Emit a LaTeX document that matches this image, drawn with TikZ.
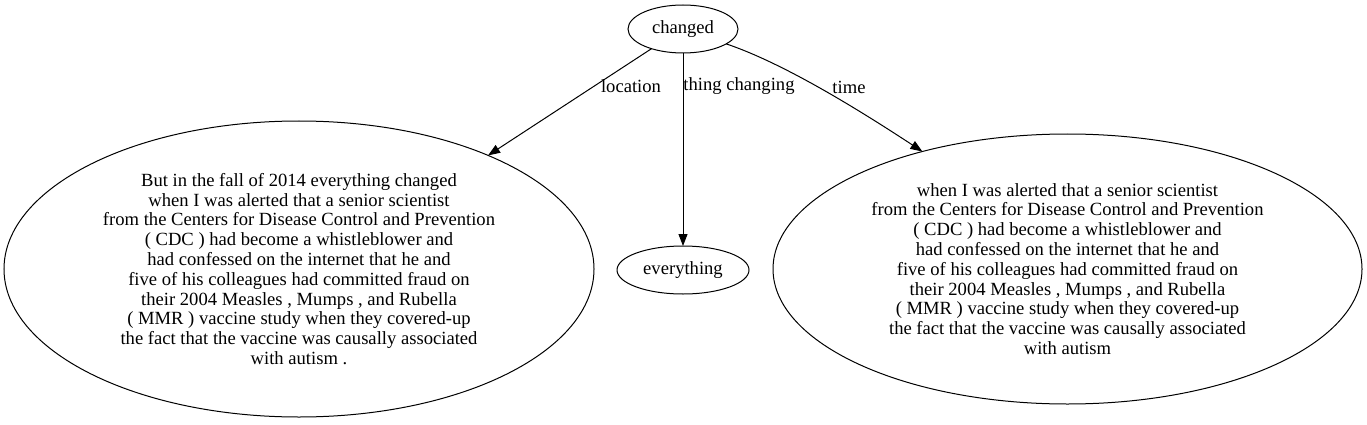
\documentclass[tikz,border=0pt]{standalone}
\usepackage{fontspec}
\setmainfont{Liberation Serif}
\usetikzlibrary{shapes.geometric,arrows.meta}
\begin{document}
\begin{tikzpicture}[x=1pt,y=-1pt,
  every node/.style={font=\fontsize{18.6}{19.8}\selectfont},
  ell/.style={draw,ellipse,line width=1pt,inner sep=0pt,outer sep=0pt,align=center},
  lbl/.style={inner sep=0pt},
  edge/.style={line width=1pt,-{Triangle[length=12pt,width=9pt]}}]
\useasboundingbox (0,0) rectangle (1367,425);
\node[ell,minimum width=110pt,minimum height=48pt] (changed) at (683,29) {changed};
\node[ell,minimum width=132pt,minimum height=48pt] (everything) at (683,270) {everything};
\node[ell,minimum width=590pt,minimum height=296pt] (left) at (299,269) {But in the fall of 2014 everything changed\\
when I was alerted that a senior scientist\\
from the Centers for Disease Control and Prevention\\
( CDC ) had become a whistleblower and\\
had confessed on the internet that he and\\
five of his colleagues had committed fraud on\\
their 2004 Measles , Mumps , and Rubella\\
( MMR ) vaccine study when they covered-up\\
the fact that the vaccine was causally associated\\
with autism .};
\node[ell,minimum width=589pt,minimum height=270pt] (right) at (1067.5,269) {when I was alerted that a senior scientist\\
from the Centers for Disease Control and Prevention\\
( CDC ) had become a whistleblower and\\
had confessed on the internet that he and\\
five of his colleagues had committed fraud on\\
their 2004 Measles , Mumps , and Rubella\\
( MMR ) vaccine study when they covered-up\\
the fact that the vaccine was causally associated\\
with autism};
\draw[edge] (changed.212) -- (left.31.7);
\draw[edge] (changed.south) -- (everything.north);
\draw[edge] (changed.-19) .. controls (780,62) and (850,104) .. (right.141.8);
\node[lbl] (llocation) at (631,86) {location};
\node[lbl] (lthing) at (739,86) {thing changing};
\node[lbl] (ltime) at (849,87) {time};
\end{tikzpicture}
\end{document}
